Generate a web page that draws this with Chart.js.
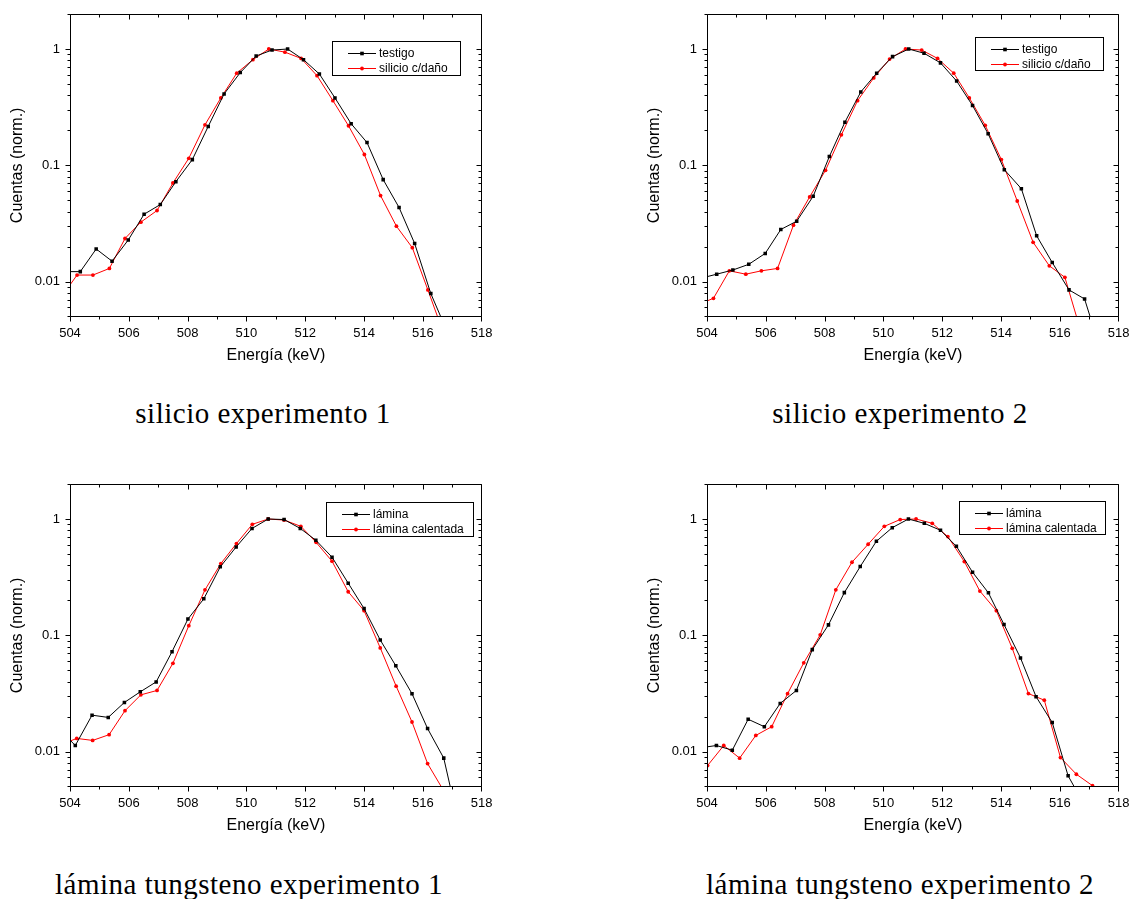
<!DOCTYPE html>
<html>
<head>
<meta charset="utf-8">
<script src="https://cdn.jsdelivr.net/npm/chart.js@4.4.1/dist/chart.umd.min.js"></script>
<style>
  html, body { margin: 0; padding: 0; background: #fff; width: 1129px; height: 899px; overflow: hidden; }
  .panel { position: absolute; width: 500px; height: 375px; }
  .caption {
    position: absolute; font-family: "Liberation Serif", "Times New Roman", serif;
    font-size: 29px; letter-spacing: 0.5px; line-height: 1; white-space: nowrap;
    transform: translateX(-50%); color: #000;
  }
</style>
</head>
<body>
<div class="panel" style="left:0;top:0"><canvas id="c1" width="500" height="375"></canvas></div>
<div class="panel" style="left:637px;top:0"><canvas id="c2" width="500" height="375"></canvas></div>
<div class="panel" style="left:0;top:470px"><canvas id="c3" width="500" height="375"></canvas></div>
<div class="panel" style="left:637px;top:470px"><canvas id="c4" width="500" height="375"></canvas></div>

<div class="caption" style="left:263px;top:399px">silicio experimento 1</div>
<div class="caption" style="left:900px;top:399px">silicio experimento 2</div>
<div class="caption" style="left:249px;top:870px">lámina tungsteno experimento 1</div>
<div class="caption" style="left:900px;top:870px">lámina tungsteno experimento 2</div>

<script>
// ---- axis ticks ----
const xTicks = [504, 506, 508, 510, 512, 514, 516, 518];
const xMinorTicks = [505, 507, 509, 511, 513, 515, 517];
const yTicks = [0.01, 0.1, 1];
const yMinorTicks = [0.005, 0.006, 0.007, 0.008, 0.009,
                     0.02, 0.03, 0.04, 0.05, 0.06, 0.07, 0.08, 0.09,
                     0.2, 0.3, 0.4, 0.5, 0.6, 0.7, 0.8, 0.9, 2];

// ---- silicio experimento 1 ----
const si1TestigoE = [503.81, 504.35, 504.89, 505.43, 505.98, 506.52, 507.07, 507.60, 508.16, 508.70, 509.24, 509.79, 510.33, 510.87, 511.40, 511.94, 512.48, 513.01, 513.56, 514.10, 514.65, 515.19, 515.72, 516.27, 516.81];
const si1TestigoC = [0.0122, 0.0122, 0.0191, 0.0150, 0.0228, 0.038, 0.046, 0.0724, 0.112, 0.216, 0.411, 0.627, 0.871, 0.98, 1.0, 0.81, 0.61, 0.38, 0.228, 0.157, 0.0754, 0.0434, 0.0213, 0.0079, 0.0038];
const si1DanoE = [503.69, 504.24, 504.78, 505.34, 505.87, 506.41, 506.96, 507.50, 508.04, 508.59, 509.13, 509.67, 510.22, 510.76, 511.31, 511.86, 512.40, 512.94, 513.47, 514.01, 514.56, 515.10, 515.64, 516.17, 516.72];
const si1DanoC = [0.0073, 0.0114, 0.0114, 0.0130, 0.0235, 0.0325, 0.0409, 0.0705, 0.115, 0.223, 0.38, 0.62, 0.81, 1.0, 0.94, 0.83, 0.59, 0.36, 0.219, 0.124, 0.055, 0.030, 0.0196, 0.0085, 0.0035];

// ---- silicio experimento 2 ----
const si2TestigoE = [503.79, 504.33, 504.88, 505.42, 505.98, 506.51, 507.05, 507.61, 508.16, 508.69, 509.23, 509.77, 510.31, 510.86, 511.38, 511.94, 512.49, 513.03, 513.56, 514.11, 514.69, 515.21, 515.74, 516.31, 516.84, 517.38];
const si2TestigoC = [0.0107, 0.0116, 0.0126, 0.0141, 0.0175, 0.0281, 0.0331, 0.0542, 0.119, 0.235, 0.428, 0.62, 0.86, 1.0, 0.92, 0.76, 0.53, 0.327, 0.187, 0.0918, 0.063, 0.0248, 0.0146, 0.0085, 0.0071, 0.0026];
const si2DanoE = [503.67, 504.22, 504.76, 505.32, 505.85, 506.40, 506.94, 507.49, 508.03, 508.57, 509.12, 509.67, 510.21, 510.75, 511.30, 511.84, 512.39, 512.92, 513.46, 514.01, 514.55, 515.09, 515.64, 516.17, 516.72];
const si2DanoC = [0.0063, 0.0072, 0.0124, 0.0116, 0.0124, 0.0130, 0.0306, 0.0535, 0.0906, 0.183, 0.36, 0.564, 0.82, 1.0, 0.98, 0.83, 0.62, 0.38, 0.221, 0.112, 0.0494, 0.0218, 0.0137, 0.0109, 0.0037];

// ---- lámina tungsteno experimento 1 ----
const w1LaminaE = [503.64, 504.18, 504.75, 505.30, 505.85, 506.39, 506.93, 507.47, 508.01, 508.55, 509.11, 509.65, 510.19, 510.74, 511.28, 511.83, 512.36, 512.91, 513.46, 514.00, 514.55, 515.08, 515.63, 516.16, 516.71, 517.25];
const w1LaminaC = [0.0156, 0.0113, 0.0206, 0.0197, 0.0265, 0.0327, 0.0398, 0.0724, 0.138, 0.206, 0.388, 0.575, 0.83, 1.0, 0.99, 0.83, 0.657, 0.47, 0.281, 0.17, 0.0912, 0.0547, 0.0315, 0.0158, 0.0088, 0.0022];
const w1CalentE = [503.65, 504.23, 504.77, 505.33, 505.87, 506.41, 506.96, 507.50, 508.04, 508.59, 509.13, 509.66, 510.20, 510.74, 511.28, 511.85, 512.37, 512.91, 513.46, 514.00, 514.55, 515.09, 515.63, 516.16, 516.71];
const w1CalentC = [0.0114, 0.013, 0.0125, 0.014, 0.0225, 0.0308, 0.0336, 0.0575, 0.121, 0.246, 0.414, 0.615, 0.90, 1.0, 0.98, 0.865, 0.63, 0.434, 0.237, 0.163, 0.078, 0.0366, 0.018, 0.0079, 0.0046];

// ---- lámina tungsteno experimento 2 ----
const w2LaminaE = [503.78, 504.32, 504.86, 505.40, 505.95, 506.49, 507.04, 507.58, 508.13, 508.67, 509.21, 509.76, 510.30, 510.85, 511.39, 511.94, 512.48, 513.03, 513.57, 514.10, 514.66, 515.19, 515.74, 516.28, 516.83];
const w2LaminaC = [0.0108, 0.0113, 0.0103, 0.019, 0.0164, 0.026, 0.0336, 0.0754, 0.123, 0.233, 0.39, 0.644, 0.843, 1.0, 0.918, 0.80, 0.583, 0.349, 0.232, 0.124, 0.064, 0.0297, 0.0178, 0.0062, 0.0035];
const w2CalentE = [504.02, 504.57, 505.11, 505.66, 506.20, 506.74, 507.29, 507.85, 508.38, 508.93, 509.48, 510.03, 510.57, 511.11, 511.66, 512.19, 512.75, 513.28, 513.84, 514.38, 514.93, 515.47, 516.02, 516.56, 517.11];
const w2CalentC = [0.0076, 0.0113, 0.0088, 0.0138, 0.0164, 0.0315, 0.058, 0.101, 0.246, 0.425, 0.607, 0.865, 0.99, 1.0, 0.918, 0.706, 0.431, 0.24, 0.163, 0.0774, 0.0316, 0.0277, 0.0089, 0.0064, 0.0051];

const FONT = '"Liberation Sans", Arial, sans-serif';

function pairs(xs, ys) { return xs.map((x, i) => ({ x: x, y: ys[i] })); }

// Closed frame with Origin-style ticks: bottom/left outward, top/right inward.
const frameTicks = {
  id: 'frameTicks',
  afterDraw(chart) {
    const { ctx, chartArea: a, scales } = chart;
    const sx = scales.x, sy = scales.y;
    const MAJ = 5, MIN = 3;
    ctx.save();
    ctx.strokeStyle = '#000';
    ctx.lineWidth = 1;
    ctx.beginPath();
    const l = Math.round(a.left) + 0.5, r = Math.round(a.right) - 0.5;
    const t = Math.round(a.top) + 0.5, b = Math.round(a.bottom) - 0.5;
    ctx.rect(l, t, r - l, b - t);
    const xt = (v, len) => {
      const p = Math.min(r, Math.max(l, Math.round(sx.getPixelForValue(v)) + 0.5));
      ctx.moveTo(p, b); ctx.lineTo(p, b + len);
      ctx.moveTo(p, t); ctx.lineTo(p, t + len);
    };
    const yt = (v, len) => {
      const p = Math.min(b, Math.max(t, Math.round(sy.getPixelForValue(v)) + 0.5));
      ctx.moveTo(l, p); ctx.lineTo(l - len, p);
      ctx.moveTo(r, p); ctx.lineTo(r - len, p);
    };
    xTicks.forEach(v => xt(v, MAJ));
    xMinorTicks.forEach(v => xt(v, MIN));
    yTicks.forEach(v => yt(v, MAJ));
    yMinorTicks.forEach(v => yt(v, MIN));
    ctx.stroke();
    ctx.restore();
  }
};

// Boxed legend placed inside the plot area.
const boxLegend = {
  id: 'boxLegend',
  afterDraw(chart, args, opts) {
    const { ctx } = chart;
    const [bx, by, bw, bh] = opts.box;
    ctx.save();
    ctx.fillStyle = '#fff';
    ctx.fillRect(bx, by, bw, bh);
    ctx.strokeStyle = '#000';
    ctx.lineWidth = 1;
    ctx.strokeRect(Math.round(bx) + 0.5, Math.round(by) + 0.5, Math.round(bw), Math.round(bh));
    ctx.font = '12px ' + FONT;
    ctx.textBaseline = 'middle';
    ctx.textAlign = 'left';
    chart.data.datasets.forEach((ds, i) => {
      const cy = Math.round(by + 12 + i * 15) + 0.5;
      ctx.strokeStyle = ds.borderColor;
      ctx.beginPath();
      ctx.moveTo(bx + 16, cy); ctx.lineTo(bx + 44, cy);
      ctx.stroke();
      ctx.fillStyle = ds.borderColor;
      if (ds.pointStyle === 'rect') {
        ctx.fillRect(bx + 28.2, cy - 1.8, 3.6, 3.6);
      } else {
        ctx.beginPath(); ctx.arc(bx + 30, cy, 1.9, 0, Math.PI * 2); ctx.fill();
      }
      ctx.fillStyle = '#000';
      ctx.fillText(ds.label, bx + 47, cy + 0.5);
    });
    ctx.restore();
  }
};

function makePanel(id, blackLabel, blackE, blackC, redLabel, redE, redC, box) {
  return new Chart(document.getElementById(id), {
    type: 'line',
    data: {
      datasets: [
        { label: blackLabel, data: pairs(blackE, blackC), borderColor: '#000000', backgroundColor: '#000000',
          borderWidth: 1, pointStyle: 'rect', pointRadius: 2.5, pointBorderWidth: 0, tension: 0 },
        { label: redLabel, data: pairs(redE, redC), borderColor: '#ff0000', backgroundColor: '#ff0000',
          borderWidth: 1, pointStyle: 'circle', pointRadius: 1.9, pointBorderWidth: 0, tension: 0 }
      ]
    },
    options: {
      responsive: false,
      animation: false,
      devicePixelRatio: 1,
      layout: { padding: { left: 0, top: 14, right: 18.3, bottom: 0 } },
      plugins: { legend: { display: false }, tooltip: { enabled: false }, boxLegend: { box: box } },
      scales: {
        x: {
          type: 'linear', min: 504, max: 518,
          afterBuildTicks: s => { s.ticks = xTicks.map(v => ({ value: v })); },
          afterFit: s => { s.height = 58.3; s.paddingLeft = 0; s.paddingRight = 0; },
          grid: { display: false, drawTicks: false },
          border: { display: false },
          ticks: { color: '#000', font: { family: FONT, size: 13 }, padding: 9, maxRotation: 0, autoSkip: false,
                   callback: v => String(v) },
          title: { display: true, text: 'Energía (keV)', color: '#000', font: { family: FONT, size: 16 },
                   padding: { top: 0, bottom: 10 } }
        },
        y: {
          type: 'logarithmic', min: 0.005, max: 2,
          afterBuildTicks: s => { s.ticks = yTicks.map(v => ({ value: v })); },
          afterFit: s => { s.width = 70; s.paddingTop = 0; s.paddingBottom = 0; },
          grid: { display: false, drawTicks: false },
          border: { display: false },
          ticks: { color: '#000', font: { family: FONT, size: 13 }, padding: 10, autoSkip: false,
                   callback: v => String(v) },
          title: { display: true, text: 'Cuentas (norm.)', color: '#000', font: { family: FONT, size: 16 },
                   padding: { top: 8, bottom: 0 } }
        }
      }
    },
    plugins: [frameTicks, boxLegend]
  });
}

makePanel('c1', 'testigo', si1TestigoE, si1TestigoC, 'silicio c/daño', si1DanoE, si1DanoC, [332, 41, 128, 34]);
makePanel('c2', 'testigo', si2TestigoE, si2TestigoC, 'silicio c/daño', si2DanoE, si2DanoC, [338, 37, 128, 33]);
makePanel('c3', 'lámina', w1LaminaE, w1LaminaC, 'lámina calentada', w1CalentE, w1CalentC, [326, 32, 147, 34]);
makePanel('c4', 'lámina', w2LaminaE, w2LaminaC, 'lámina calentada', w2CalentE, w2CalentC, [322, 31, 146, 33]);
</script>
</body>
</html>
